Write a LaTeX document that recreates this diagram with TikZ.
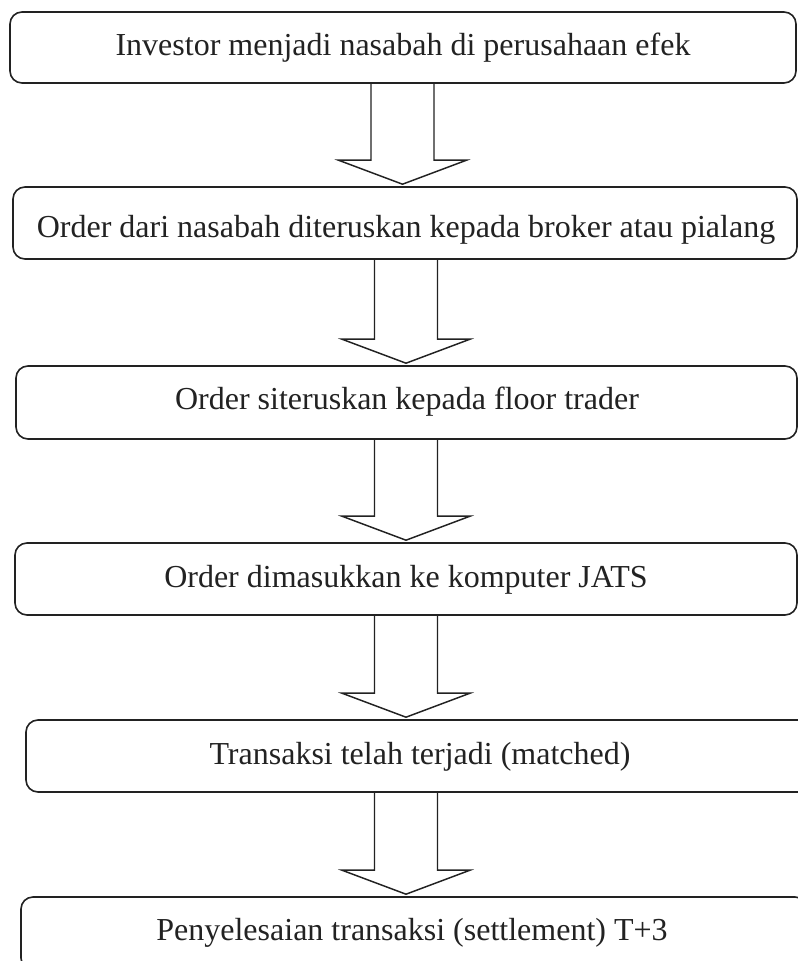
\documentclass[tikz,border=0pt]{standalone}
\usepackage{fontspec}
\setmainfont{Liberation Serif}
\usetikzlibrary{calc}
\definecolor{ink}{HTML}{222222}
\tikzset{
  flowbox/.style={draw=ink, line width=1.2pt, rounded corners=9pt, rectangle, inner sep=0pt},
  lbl/.style={inner sep=0pt, anchor=base, text=ink, font=\fontsize{24}{28}\selectfont},
  blockarr/.style={draw=ink, line width=1.1pt, line join=miter}
}
\newcommand\flowarrow[3]{%
  \draw[blockarr] ($(#1.south -| #3)+(-31.5,0)$) -- ($(#2.north -| #3)+(-31.5,-26)$)
    -- ($(#2.north -| #3)+(-64,-26)$) -- ($(#2.north -| #3)+(0,-2)$)
    -- ($(#2.north -| #3)+(64,-26)$) -- ($(#2.north -| #3)+(31.5,-26)$)
    -- ($(#1.south -| #3)+(31.5,0)$);}
\begin{document}
\begin{tikzpicture}[x=0.75pt,y=-0.75pt]
\useasboundingbox (0,0) rectangle (798,961);
\clip (0,0) rectangle (798,961);
\fill[white] (0,0) rectangle (798,961);
% boxes
\node[flowbox, minimum width=589.5pt, minimum height=53.25pt] (b1) at (403,47.5) {};
\node[flowbox, minimum width=588pt, minimum height=54pt] (b2) at (405,223) {};
\node[flowbox, minimum width=585.75pt, minimum height=54.75pt] (b3) at (406.5,402.5) {};
\node[flowbox, minimum width=586.5pt, minimum height=54pt] (b4) at (406,579) {};
\node[flowbox, minimum width=589.5pt, minimum height=54pt] (b5) at (419,756) {};
\node[flowbox, minimum width=589.5pt, minimum height=54.75pt] (b6) at (414,933.5) {};
% texts
\node[lbl] (t1) at (403,55) {Investor menjadi nasabah di perusahaan efek};
\node[lbl] (t2) at (406,237) {Order dari nasabah diteruskan kepada broker atau pialang};
\node[lbl] (t3) at (407,409) {Order siteruskan kepada floor trader};
\node[lbl] (t4) at (406,587) {Order dimasukkan ke komputer JATS};
\node[lbl] (t5) at (420,764) {Transaksi telah terjadi (matched)};
\node[lbl] (t6) at (412,940) {Penyelesaian transaksi (settlement) T+3};
% arrow axes
\coordinate (x1) at (402.5,0);
\coordinate (x2) at (406,0);
% arrows
\flowarrow{b1}{b2}{x1}
\flowarrow{b2}{b3}{x2}
\flowarrow{b3}{b4}{x2}
\flowarrow{b4}{b5}{x2}
\flowarrow{b5}{b6}{x2}
\end{tikzpicture}
\end{document}
